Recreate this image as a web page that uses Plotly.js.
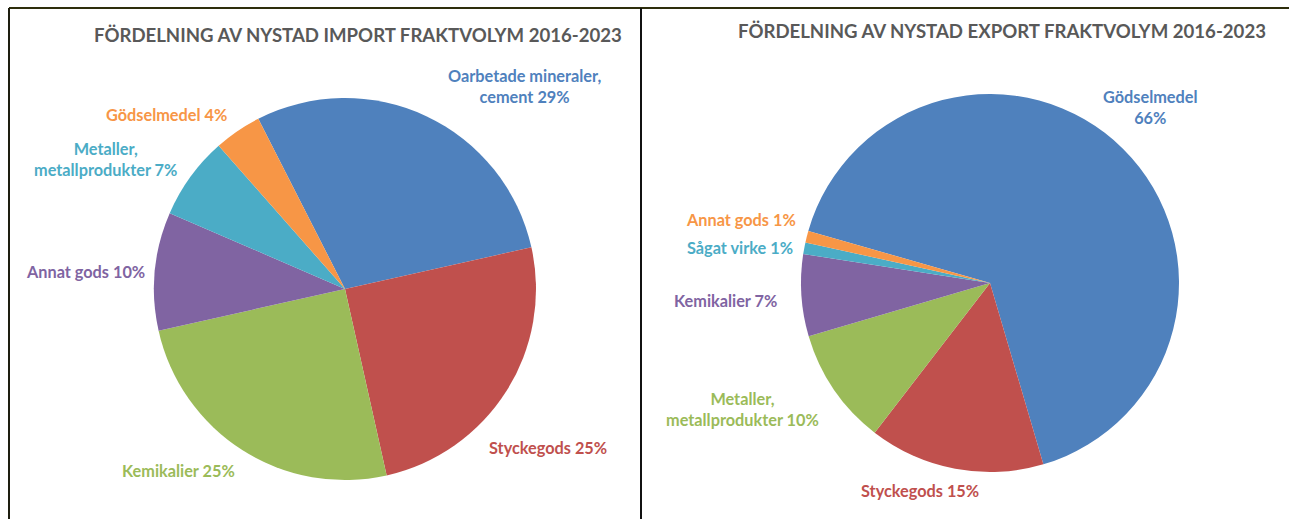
<!DOCTYPE html>
<html>
<head>
<meta charset="utf-8">
<script src="https://cdn.plot.ly/plotly-3.0.1.min.js"></script>
<style>
html, body { margin: 0; padding: 0; background: #ffffff; }
#chart { width: 1289px; height: 519px; }
</style>
</head>
<body>
<div id="chart"></div>
<script>
// ---- Data ----
const importTitle = 'FÖRDELNING AV NYSTAD IMPORT FRAKTVOLYM 2016-2023';
const exportTitle = 'FÖRDELNING AV NYSTAD EXPORT FRAKTVOLYM 2016-2023';

const importCategories = ['Oarbetade mineraler, cement', 'Styckegods', 'Kemikalier', 'Annat gods', 'Metaller, metallprodukter', 'Gödselmedel'];
const importValues = [29, 25, 25, 10, 7, 4];

const exportCategories = ['Gödselmedel', 'Styckegods', 'Metaller, metallprodukter', 'Kemikalier', 'Sågat virke', 'Annat gods'];
const exportValues = [66, 15, 10, 7, 1, 1];

// ---- Styles ----
const importColors = ['#4f81bd', '#c0504d', '#9bbb59', '#8064a2', '#4bacc6', '#f79646'];
const exportColors = ['#4f81bd', '#c0504d', '#9bbb59', '#8064a2', '#4bacc6', '#f79646'];

const W = 1289, H = 519;
const px = x => x / W;
const py = y => 1 - y / H;

// label placement (pixel centres) and wrapping mode per slice
const importLabelPos = [
  {x: 524, y: 86, wrap: 'comma'},
  {x: 548, y: 447, wrap: 'none'},
  {x: 178, y: 470, wrap: 'none'},
  {x: 85, y: 271, wrap: 'none'},
  {x: 105, y: 159, wrap: 'comma'},
  {x: 166, y: 114, wrap: 'none'}
];
const exportLabelPos = [
  {x: 1150, y: 107, wrap: 'value'},
  {x: 920, y: 490, wrap: 'none'},
  {x: 743, y: 409, wrap: 'comma'},
  {x: 725, y: 300, wrap: 'none'},
  {x: 740, y: 247, wrap: 'none'},
  {x: 741, y: 219, wrap: 'none'}
];

const FONT = 'Lato, "Open Sans", sans-serif';

function labelText(name, value, wrap) {
  if (wrap === 'comma') return name.replace(', ', ',<br>') + ' ' + value + '%';
  if (wrap === 'value') return name + '<br>' + value + '%';
  return name + ' ' + value + '%';
}

function makeAnnotations(cats, vals, colors, pos) {
  return cats.map((c, i) => ({
    xref: 'paper', yref: 'paper',
    x: px(pos[i].x), y: py(pos[i].y),
    xanchor: 'center', yanchor: 'middle',
    text: labelText(c, vals[i], pos[i].wrap),
    showarrow: false,
    align: 'center',
    font: {family: FONT, size: 16.3, color: colors[i], weight: 700}
  }));
}

const traces = [
  {
    type: 'pie',
    labels: importCategories,
    values: importValues,
    sort: false,
    direction: 'clockwise',
    rotation: -27,
    textinfo: 'none',
    hoverinfo: 'label+percent',
    marker: {colors: importColors, line: {width: 0}},
    domain: {x: [px(154), px(536)], y: [py(480), py(98)]},
    showlegend: false
  },
  {
    type: 'pie',
    labels: exportCategories,
    values: exportValues,
    sort: false,
    direction: 'clockwise',
    rotation: -74,
    textinfo: 'none',
    hoverinfo: 'label+percent',
    marker: {colors: exportColors, line: {width: 0}},
    domain: {x: [px(801), px(1179)], y: [py(472), py(94)]},
    showlegend: false
  }
];

const titleFont = {family: FONT, size: 18.6, color: '#595959', weight: 700};

const annotations = [
  {xref: 'paper', yref: 'paper', x: px(358), y: py(35), xanchor: 'center', yanchor: 'middle',
   text: importTitle, showarrow: false, font: titleFont},
  {xref: 'paper', yref: 'paper', x: px(1002), y: py(31), xanchor: 'center', yanchor: 'middle',
   text: exportTitle, showarrow: false, font: titleFont}
].concat(makeAnnotations(importCategories, importValues, importColors, importLabelPos))
 .concat(makeAnnotations(exportCategories, exportValues, exportColors, exportLabelPos));

const shapes = [
  {type: 'line', xref: 'paper', yref: 'paper', x0: px(9), x1: px(1289), y0: py(8), y1: py(8), line: {color: '#2e2e0c', width: 2}},
  {type: 'line', xref: 'paper', yref: 'paper', x0: px(9), x1: px(9), y0: py(8), y1: py(519), line: {color: '#1e1e10', width: 2}},
  {type: 'line', xref: 'paper', yref: 'paper', x0: px(641), x1: px(641), y0: py(8), y1: py(519), line: {color: '#111111', width: 2}}
];

const layout = {
  width: W, height: H,
  margin: {l: 0, r: 0, t: 0, b: 0},
  paper_bgcolor: '#ffffff',
  plot_bgcolor: '#ffffff',
  showlegend: false,
  annotations: annotations,
  shapes: shapes
};

Plotly.newPlot('chart', traces, layout, {displayModeBar: false, staticPlot: true});
</script>
</body>
</html>
